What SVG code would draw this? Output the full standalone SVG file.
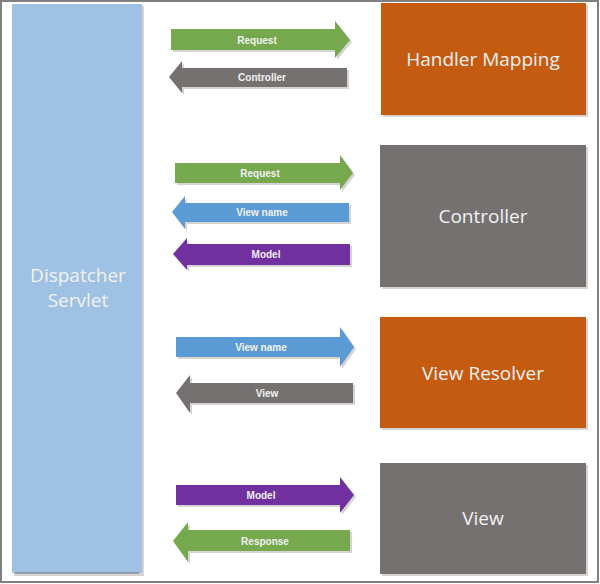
<svg xmlns="http://www.w3.org/2000/svg" width="600" height="584" viewBox="0 0 600 584">
<defs>
<style>
.lbl{font-family:"Liberation Sans",Arial,sans-serif;font-weight:bold;font-size:10px;fill:#f2f2f2;text-anchor:middle}
.big{font-family:"Open Sans","Liberation Sans",Arial,sans-serif;font-size:19px;fill:#f2f2f2;text-anchor:middle}
.sh{fill:#d6d3d0}
.green{fill:#76a84e}.gray{fill:#767171}.blue{fill:#5b9bd5}.purple{fill:#7030a0}.orange{fill:#c55a11}
</style>
</defs>
<rect x="0" y="0" width="600" height="584" fill="#ffffff"/>
<rect x="1" y="1" width="597" height="581" fill="none" stroke="#808080" stroke-width="2"/>

<g id="dispatcher">
<rect class="sh" x="14" y="6" width="130" height="570"/>
<rect x="12" y="4" width="130" height="569" fill="#9fc1e3"/>
<line x1="15" y1="573" x2="139" y2="573" stroke="#5f7287" stroke-width="1"/>
<text class="big" x="78" y="282">Dispatcher</text>
<text class="big" x="78" y="307">Servlet</text>
</g>

<g id="handler-mapping">
<rect class="sh" x="383" y="5" width="205" height="112"/>
<rect class="orange" x="381" y="3" width="205" height="112"/>
<text class="big" x="483" y="66">Handler Mapping</text>
</g>
<g id="controller">
<rect class="sh" x="382" y="147" width="206" height="142"/>
<rect class="gray" x="380" y="145" width="206" height="142"/>
<text class="big" x="483" y="223">Controller</text>
</g>
<g id="view-resolver">
<rect class="sh" x="382" y="319" width="206" height="111"/>
<rect class="orange" x="380" y="317" width="206" height="111"/>
<text class="big" x="483" y="380">View Resolver</text>
</g>
<g id="view">
<rect class="sh" x="382" y="465" width="206" height="111"/>
<rect class="gray" x="380" y="463" width="206" height="111"/>
<text class="big" x="483" y="525">View</text>
</g>

<g id="connectors">
<!-- Request 1 -->
<polygon class="sh" points="173,31 337,31 337,23 352,42 337,60 337,52 173,52"/>
<polygon class="green" points="171,29 335,29 335,21 350,40 335,58 335,50 171,50"/>
<text class="lbl" x="257" y="44">Request</text>
<!-- Controller -->
<polygon class="sh" points="171,79 184,63 184,70 349,70 349,89 184,89 184,95"/>
<polygon class="gray" points="169,77 182,61 182,68 347,68 347,87 182,87 182,93"/>
<text class="lbl" x="262" y="81">Controller</text>

<!-- Request 2 -->
<polygon class="sh" points="177,165 342,165 342,157 355,175 342,192 342,185 177,185"/>
<polygon class="green" points="175,163 340,163 340,155 353,173 340,190 340,183 175,183"/>
<text class="lbl" x="260" y="177">Request</text>
<!-- View name left -->
<polygon class="sh" points="174,214 187,198 187,205 351,205 351,224 187,224 187,231"/>
<polygon class="blue" points="172,212 185,196 185,203 349,203 349,222 185,222 185,229"/>
<text class="lbl" x="262" y="216">View name</text>
<!-- Model left -->
<polygon class="sh" points="175,256 189,240 189,246 352,246 352,267 189,267 189,272"/>
<polygon class="purple" points="173,254 187,238 187,244 350,244 350,265 187,265 187,270"/>
<text class="lbl" x="266" y="258">Model</text>

<!-- View name right -->
<polygon class="sh" points="178,339 342,339 342,329 356,349 342,369 342,359 178,359"/>
<polygon class="blue" points="176,337 340,337 340,327 354,347 340,367 340,357 176,357"/>
<text class="lbl" x="261" y="351">View name</text>
<!-- View left -->
<polygon class="sh" points="178,395 192,377 192,385 355,385 355,405 192,405 192,415"/>
<polygon class="gray" points="176,393 190,375 190,383 353,383 353,403 190,403 190,413"/>
<text class="lbl" x="267" y="397">View</text>

<!-- Model right -->
<polygon class="sh" points="178,487 342,487 342,479 356,497 342,515 342,507 178,507"/>
<polygon class="purple" points="176,485 340,485 340,477 354,495 340,513 340,505 176,505"/>
<text class="lbl" x="261" y="499">Model</text>
<!-- Response left -->
<polygon class="sh" points="175,543 190,524 190,532 352,532 352,553 190,553 190,564"/>
<polygon class="green" points="173,541 188,522 188,530 350,530 350,551 188,551 188,562"/>
<text class="lbl" x="265" y="545">Response</text>
</g>
</svg>
